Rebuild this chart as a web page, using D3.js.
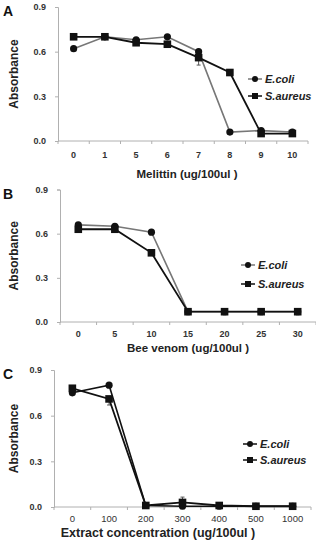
<!DOCTYPE html>
<html>
<head>
<meta charset="utf-8">
<script src="https://d3js.org/d3.v7.min.js"></script>
<style>
  body { margin: 0; background: #fff; }
  svg text { font-family: "Liberation Sans", Arial, sans-serif; }
</style>
</head>
<body>
<svg width="316" height="541"></svg>
<script>
// panel A - melittin
const catsA = ["0", "1", "5", "6", "7", "8", "9", "10"];
const ecoliA = [0.62, 0.70, 0.68, 0.70, 0.60, 0.06, 0.07, 0.06];
const saureusA = [0.70, 0.70, 0.66, 0.65, 0.56, 0.46, 0.05, 0.05];
const errA = [0, 0, 0, 0, 0.05, 0, 0, 0];

// panel B - bee venom
const catsB = ["0", "5", "10", "15", "20", "25", "30"];
const ecoliB = [0.66, 0.65, 0.61, 0.07, 0.07, 0.07, 0.07];
const saureusB = [0.63, 0.63, 0.47, 0.07, 0.07, 0.07, 0.07];
const errB = [0, 0, 0, 0, 0, 0, 0];

// panel C - extract
const catsC = ["0", "100", "200", "300", "400", "500", "1000"];
const ecoliC = [0.75, 0.80, 0.01, 0.005, 0.005, 0.005, 0.005];
const saureusC = [0.78, 0.71, 0.01, 0.03, 0.01, 0.005, 0.005];
const errC = [0, 0.04, 0, 0.035, 0, 0, 0];
const errUpC = [0, 0, 0, 1, 0, 0, 0];

const yTicks = [0, 0.3, 0.6, 0.9];

const svg = d3.select("svg");

function panel(o) {
  const g = svg.append("g");
  const x = d3.scaleBand().domain(o.cats).range([o.x0, o.x1]);
  const y = d3.scaleLinear().domain([0, 0.9]).range([o.y0, o.y1]);
  const axisCol = "#b0b0b0";

  // y axis
  const ya = g.append("g").attr("transform", "translate(" + o.x0 + ",0)")
    .call(d3.axisLeft(y).tickValues(yTicks).tickFormat(d3.format(".1f")).tickSize(3).tickPadding(9));
  ya.select(".domain").attr("stroke", axisCol);
  ya.selectAll(".tick line").attr("stroke", axisCol);
  ya.selectAll("text").attr("font-size", 9).attr("font-weight", "bold").attr("fill", "#333");

  // x axis, ticks at band edges
  const xa = g.append("g").attr("transform", "translate(0," + o.y0 + ")");
  xa.append("line").attr("x1", o.x0).attr("x2", o.x1).attr("stroke", axisCol);
  const edges = o.cats.map((c, i) => x(c)).concat([o.x1]);
  xa.selectAll(".edge").data(edges).join("line")
    .attr("x1", d => d).attr("x2", d => d).attr("y1", 0).attr("y2", 3).attr("stroke", axisCol);
  xa.selectAll(".lab").data(o.cats).join("text")
    .attr("x", d => x(d) + x.bandwidth() / 2).attr("y", o.tickDy)
    .attr("text-anchor", "middle").attr("font-size", o.tickBold ? 9 : 9.5)
    .attr("font-weight", o.tickBold ? "bold" : "normal").attr("fill", "#333").text(d => d);

  g.append("text").attr("x", o.titleX).attr("y", o.titleY).attr("text-anchor", "middle")
    .attr("font-size", o.titleSize).attr("font-weight", "bold").attr("fill", "#222").text(o.title);
  g.append("text").attr("transform", "translate(18," + ((o.y0 + o.y1) / 2) + ") rotate(-90)")
    .attr("text-anchor", "middle").attr("font-size", 12).attr("font-weight", "bold").attr("fill", "#222")
    .text("Absorbance");
  g.append("text").attr("x", 3).attr("y", o.y1 + 9).attr("font-size", 14).attr("font-weight", "bold")
    .attr("fill", "#111").text(o.letter);

  const cx = d => x(d) + x.bandwidth() / 2;
  const line = d3.line().x(d => cx(d[0])).y(d => y(d[1]));
  const ec = o.cats.map((c, i) => [c, o.ecoli[i]]);
  const sa = o.cats.map((c, i) => [c, o.saureus[i]]);

  // error bars (S.aureus)
  o.err.forEach((e, i) => {
    if (!e) return;
    const c = cx(o.cats[i]);
    const v = o.saureus[i];
    const yy = o.errUp && o.errUp[i] ? y(v + e) : y(v - e);
    g.append("line").attr("x1", c).attr("x2", c).attr("y1", y(v)).attr("y2", yy).attr("stroke", "#555");
    g.append("line").attr("x1", c - 2).attr("x2", c + 2).attr("y1", yy).attr("y2", yy).attr("stroke", "#555");
  });

  g.append("path").datum(ec).attr("d", line).attr("fill", "none").attr("stroke", o.ecoliCol).attr("stroke-width", 1.6);
  g.append("path").datum(sa).attr("d", line).attr("fill", "none").attr("stroke", "#111").attr("stroke-width", 1.8);
  g.selectAll(".ec").data(ec).join("circle").attr("cx", d => cx(d[0])).attr("cy", d => y(d[1]))
    .attr("r", 3.6).attr("fill", "#111");
  g.selectAll(".sa").data(sa).join("rect").attr("x", d => cx(d[0]) - 3.8).attr("y", d => y(d[1]) - 3.8)
    .attr("width", 7.6).attr("height", 7.6).attr("fill", "#111");

  // legend
  const items = [["E.coli", "circle", o.ecoliCol], ["S.aureus", "rect", "#111"]];
  items.forEach((it, i) => {
    const ly = o.legY + i * o.legGap;
    g.append("line").attr("x1", o.legX).attr("x2", o.legX + 14).attr("y1", ly).attr("y2", ly)
      .attr("stroke", it[2]).attr("stroke-width", 1.5);
    if (it[1] === "circle") g.append("circle").attr("cx", o.legX + 7).attr("cy", ly).attr("r", 3).attr("fill", "#111");
    else g.append("rect").attr("x", o.legX + 4).attr("y", ly - 3).attr("width", 6).attr("height", 6).attr("fill", "#111");
    g.append("text").attr("x", o.legX + 17).attr("y", ly + 4).attr("font-size", 11)
      .attr("font-weight", "bold").attr("font-style", "italic").attr("fill", "#222").text(it[0]);
  });
}

panel({ letter: "A", cats: catsA, ecoli: ecoliA, saureus: saureusA, err: errA,
  x0: 58, x1: 308, y0: 141, y1: 7, tickDy: 17, tickBold: true, ecoliCol: "#777",
  title: "Melittin (ug/100ul )", titleSize: 11.5, titleX: 187, titleY: 178, legX: 248, legY: 79, legGap: 17 });

panel({ letter: "B", cats: catsB, ecoli: ecoliB, saureus: saureusB, err: errB,
  x0: 60, x1: 316, y0: 322, y1: 189.5, tickDy: 15, tickBold: true, ecoliCol: "#777",
  title: "Bee venom (ug/100ul )", titleSize: 11.5, titleX: 188, titleY: 352, legX: 241, legY: 265, legGap: 19 });

panel({ letter: "C", cats: catsC, ecoli: ecoliC, saureus: saureusC, err: errC, errUp: errUpC,
  x0: 54, x1: 311, y0: 507, y1: 370, tickDy: 15, tickBold: false, ecoliCol: "#111",
  title: "Extract concentration (ug/100ul )", titleSize: 12.5, titleX: 158, titleY: 537, legX: 243, legY: 444, legGap: 16 });
</script>
</body>
</html>
